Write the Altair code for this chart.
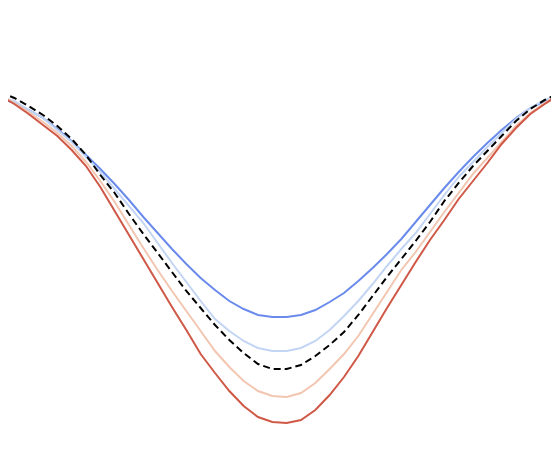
import pandas as pd
import altair as alt

# 40 samples along the x axis
steps = list(range(40))

# values (depth units, larger = lower on the chart)
s1 = [98, 103, 110, 118, 129, 141, 155, 169, 184, 200,
      217, 233, 249, 264, 278, 290, 301, 309, 315, 317,
      317, 315, 310, 302, 293, 281, 268, 254, 239, 222,
      205, 188, 172, 157, 143, 130, 118, 108, 101, 97]
s2 = [97, 101, 110, 118, 130, 142, 157, 172, 189, 206,
      223, 243, 263, 282, 301, 319, 331, 341, 348, 351,
      351, 348, 341, 330, 316, 301, 284, 266, 249, 233,
      214, 195, 177, 162, 147, 133, 119, 108, 100, 95]
s3 = [95, 103, 112, 122, 133, 146, 162, 181, 202, 225,
      248, 270, 291, 311, 331, 351, 367, 381, 391, 396,
      397, 393, 383, 369, 354, 336, 314, 292, 270, 252,
      232, 212, 193, 174, 158, 142, 126, 113, 103, 94]
s4 = [96, 104, 114, 125, 136, 150, 166, 187, 211, 235,
      259, 283, 307, 330, 354, 373, 391, 406, 417, 422,
      423, 420, 410, 395, 377, 356, 332, 308, 285, 262,
      240, 220, 199, 181, 163, 144, 128, 114, 104, 95]
reference = [92, 98, 106, 115, 126, 139, 155, 175, 193, 214,
             234, 253, 272, 291, 308, 325, 340, 353, 364, 369,
             369, 365, 356, 345, 332, 315, 296, 277, 259, 241,
             222, 201, 183, 166, 151, 136, 121, 109, 100, 93]

series_names = ["s1", "s2", "s3", "s4"]
series_colors = ["#6a8bec", "#c3d5f4", "#f2c6b0", "#cf5846"]

rows = []
for name, vals in zip(series_names, [s1, s2, s3, s4]):
    for x, v in zip(steps, vals):
        rows.append({"step": x, "depth": v, "series": name})
df = pd.DataFrame(rows)
ref_df = pd.DataFrame({"step": steps, "depth": reference})

# the page margin eats 8px on each side, so the view shows steps ~0.56 to ~38.44
x_enc = alt.X("step:Q", axis=None,
              scale=alt.Scale(domain=[8 / 14.333, 551 / 14.333], nice=False, zero=False))
y_enc = alt.Y("depth:Q", axis=None,
              scale=alt.Scale(domain=[8, 438], reverse=True, nice=False, zero=False))

lines = alt.Chart(df).mark_line(strokeWidth=2, clip=True).encode(
    x=x_enc,
    y=y_enc,
    color=alt.Color("series:N", legend=None,
                    scale=alt.Scale(domain=series_names, range=series_colors)),
    detail="series:N",
)

ref_line = alt.Chart(ref_df).mark_line(
    color="black", strokeWidth=2, strokeDash=[7, 4], clip=True
).encode(x=x_enc, y=y_enc)

chart = alt.layer(lines, ref_line).properties(
    width=543,
    height=430,
    padding=0,
    autosize=alt.AutoSizeParams(type="none"),
).configure_view(stroke=None)

chart.save("out.html", embed_options={"renderer": "svg", "actions": False})
